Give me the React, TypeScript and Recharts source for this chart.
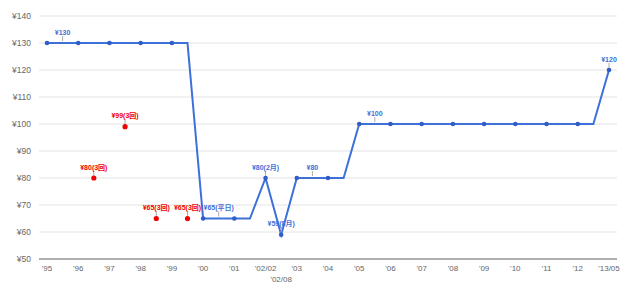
import React from 'react';
import { ComposedChart, Line, Scatter, XAxis, YAxis, CartesianGrid } from 'recharts';

// x is measured in years from '95, half steps mark the corners of the step line
const priceX = [0, 0.5, 1, 2, 3, 4, 4.5, 5, 5.5, 6, 6.5, 7, 7.5, 8, 8.5, 9, 9.5, 10, 10.5, 11, 12, 13, 14, 15, 16, 17, 17.5, 18];
const priceY = [130, 130, 130, 130, 130, 130, 130, 65, 65, 65, 65, 80, 59, 80, 80, 80, 80, 100, 100, 100, 100, 100, 100, 100, 100, 100, 100, 120];
const priceDot = [1, 0, 1, 1, 1, 1, 0, 1, 0, 1, 0, 1, 1, 1, 0, 1, 0, 1, 0, 1, 1, 1, 1, 1, 1, 1, 0, 1];
const priceNote = ['', '¥130', '', '', '', '', '', '', '¥65(平日)', '', '', '¥80(2月)', '¥59(8月)', '', '¥80', '', '', '', '¥100', '', '', '', '', '', '', '', '', '¥120'];

const saleX = [1.5, 2.5, 3.5, 4.5];
const saleY = [80, 99, 65, 65];
const saleNote = ['¥80(3回)', '¥99(3回)', '¥65(3回)', '¥65(3回)'];

const tickValues = [0, 1, 2, 3, 4, 5, 6, 7, 7.5, 8, 9, 10, 11, 12, 13, 14, 15, 16, 17, 18];
const tickLabels = ["'95", "'96", "'97", "'98", "'99", "'00", "'01", "'02/02", "'02/08", "'03", "'04", "'05", "'06", "'07", "'08", "'09", "'10", "'11", "'12", "'13/05"];
const yTicks = [50, 60, 70, 80, 90, 100, 110, 120, 130, 140];

const BLUE = '#3d70d9';
const BLUE_DOT = '#2f5ec8';
const RED = '#f00000';
const FONT = '"Liberation Sans", Arial, "Noto Sans CJK JP", sans-serif';

const priceData = priceX.map((x, i) => ({ x, y: priceY[i], dot: priceDot[i], note: priceNote[i] }));
const saleData = saleX.map((x, i) => ({ x, y: saleY[i], note: saleNote[i] }));

const Note = ({ cx, cy, text, color }: { cx: number; cy: number; text: string; color: string }) => (
  <g>
    <line x1={cx} y1={cy - 7} x2={cx} y2={cy - 2} stroke="#aaa" strokeWidth={1} />
    <text x={cx} y={cy - 8.5} textAnchor="middle" fontSize={7} fontWeight="bold" fill={color} fontFamily={FONT}>
      {text}
    </text>
  </g>
);

const PriceDot = (props: any) => {
  const { cx, cy, payload, index } = props;
  return (
    <g key={'p' + index}>
      {payload.note ? <Note cx={cx} cy={cy} text={payload.note} color={BLUE} /> : null}
      {payload.dot ? <circle cx={cx} cy={cy} r={2.3} fill={BLUE_DOT} /> : null}
    </g>
  );
};

const SaleShape = (props: any) => {
  const { cx, cy, payload } = props;
  return (
    <g>
      <Note cx={cx} cy={cy} text={payload.note} color={RED} />
      <circle cx={cx} cy={cy} r={2.6} fill={RED} />
    </g>
  );
};

const XTick = (props: any) => {
  const { x, y, payload } = props;
  const i = tickValues.indexOf(payload.value);
  const second = payload.value === 7.5;
  return (
    <text x={x} y={y + (second ? 15 : 4)} textAnchor="middle" fontSize={8} fill="#666" fontFamily={FONT}>
      {tickLabels[i]}
    </text>
  );
};

export default function App() {
  return (
    <div style={{ position: 'absolute', left: 0, top: 0, background: '#fff' }}>
      <ComposedChart width={640} height={289} margin={{ top: 16, right: 23, bottom: 0, left: 0 }}>
        <CartesianGrid vertical={false} stroke="#e3e3e3" strokeWidth={1} />
        <XAxis
          dataKey="x"
          type="number"
          domain={[0, 18]}
          ticks={tickValues}
          interval={0}
          padding={{ left: 8, right: 8 }}
          tick={<XTick />}
          tickLine={false}
          axisLine={{ stroke: '#999', strokeWidth: 1.5 }}
          height={30}
          allowDecimals
        />
        <YAxis
          type="number"
          domain={[50, 140]}
          ticks={yTicks}
          interval={0}
          width={39}
          tickLine={false}
          axisLine={false}
          tick={{ fontSize: 8.5, fill: '#666', fontFamily: FONT }}
          tickFormatter={(v: number) => '¥' + v}
        />
        <Line
          data={priceData}
          dataKey="y"
          stroke={BLUE}
          strokeWidth={2}
          dot={PriceDot}
          activeDot={false}
          isAnimationActive={false}
        />
        <Scatter data={saleData} dataKey="y" fill={RED} shape={SaleShape} isAnimationActive={false} />
      </ComposedChart>
    </div>
  );
}
